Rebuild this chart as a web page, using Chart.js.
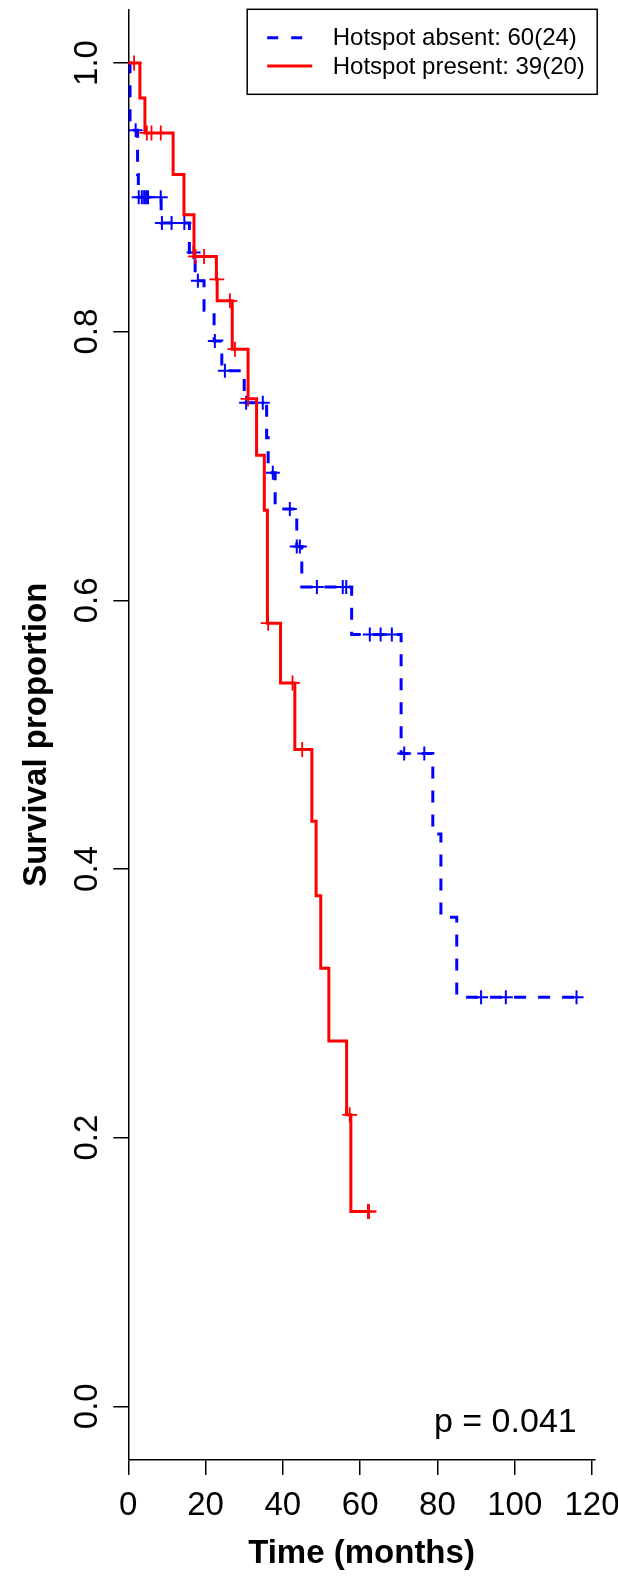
<!DOCTYPE html>
<html>
<head>
<meta charset="utf-8">
<script src="https://cdn.jsdelivr.net/npm/chart.js@4.4.0/dist/chart.umd.min.js"></script>
<style>
  html, body { margin: 0; padding: 0; background: #fff; }
</style>
</head>
<body>
<canvas id="km" width="618" height="1580"></canvas>
<script>
// axis ticks
const timeTicks = [0, 20, 40, 60, 80, 100, 120];
const survivalTicks = [0, 0.2, 0.4, 0.6, 0.8, 1.0];

// Hotspot absent (blue, dashed): step times and the survival reached at each
const absentStepTimes = [0, 0.45, 2.4, 2.6, 8.5, 15.8, 17.3, 19.6, 22.2, 24.2, 30.0, 35.8, 36.2, 38.0, 43.6, 44.9, 57.8, 70.6, 78.8, 80.9, 85.0, 116.0];
const absentStepSurv  = [1.0, 0.950, 0.917, 0.900, 0.881, 0.859, 0.838, 0.816, 0.793, 0.771, 0.747, 0.721, 0.695, 0.668, 0.640, 0.610, 0.5745, 0.486, 0.426, 0.364, 0.3045, 0.3045];
const absentCensorTimes = [1.9, 2.7, 3.5, 4.1, 4.6, 5.1, 8.4, 8.7, 11.2, 14.5, 16.9, 18.0, 22.4, 25.0, 30.5, 34.8, 37.4, 41.8, 43.6, 44.4, 48.8, 55.5, 56.4, 62.5, 65.3, 68.2, 71.4, 76.6, 91.3, 97.7, 116.0];
const absentCensorSurv  = [0.95, 0.9, 0.9, 0.9, 0.9, 0.9, 0.9, 0.881, 0.881, 0.881, 0.859, 0.838, 0.793, 0.771, 0.747, 0.747, 0.695, 0.668, 0.640, 0.640, 0.610, 0.610, 0.610, 0.5745, 0.5745, 0.5745, 0.486, 0.486, 0.3045, 0.3045, 0.3045];

// Hotspot present (red, solid)
const presentStepTimes = [0, 3.0, 4.3, 11.6, 14.4, 17.0, 22.8, 23.0, 26.9, 31.0, 33.2, 35.2, 36.0, 39.4, 43.1, 47.5, 48.6, 49.8, 51.9, 56.5, 57.6, 62.3];
const presentStepSurv  = [1.0, 0.974, 0.948, 0.917, 0.887, 0.856, 0.839, 0.823, 0.787, 0.750, 0.708, 0.667, 0.583, 0.5385, 0.489, 0.4355, 0.380, 0.326, 0.272, 0.217, 0.145, 0.145];
const presentCensorTimes = [1.5, 4.8, 6.0, 8.4, 17.4, 19.6, 22.9, 26.3, 27.6, 31.0, 36.2, 42.5, 45.0, 57.3, 62.0, 62.3];
const presentCensorSurv  = [1.0, 0.948, 0.948, 0.948, 0.856, 0.856, 0.839, 0.823, 0.787, 0.750, 0.583, 0.5385, 0.489, 0.217, 0.145, 0.145];

const groupLabels = ['Hotspot absent: 60(24)', 'Hotspot present: 39(20)'];
const pValueText = 'p = 0.041';

const FONT = '"Liberation Sans", Arial, Helvetica, sans-serif';
const BLUE = '#0000FF';
const RED = '#FF0000';

function toPoints(xs, ys) {
    return xs.map((x, i) => ({ x: x, y: ys[i] }));
}

// legend box, tick labels on y and the p value, drawn on top
const overlay = {
    id: 'overlay',
    afterDraw(chart) {
        const ctx = chart.ctx;
        const area = chart.chartArea;
        const ys = chart.scales.y;
        ctx.save();

        ctx.fillStyle = '#000';
        ctx.font = '33px ' + FONT;
        ctx.textAlign = 'center';
        ctx.textBaseline = 'middle';
        ys.ticks.forEach(t => {
            ctx.save();
            ctx.translate(area.left - 40, ys.getPixelForValue(t.value));
            ctx.rotate(-Math.PI / 2);
            ctx.fillText(t.value.toFixed(1), 0, 0);
            ctx.restore();
        });

        ctx.font = '34px ' + FONT;
        ctx.textAlign = 'right';
        ctx.textBaseline = 'alphabetic';
        ctx.fillText(pValueText, area.right - 18, ys.getPixelForValue(0) + 26);

        const boxRight = area.right + 2.5;
        const boxLeft = boxRight - 350;
        const boxTop = area.top;
        ctx.strokeStyle = '#000';
        ctx.lineWidth = 1.5;
        ctx.strokeRect(boxLeft, boxTop, boxRight - boxLeft, 85);

        const legendStyles = [
            { color: BLUE, dash: [11, 13] },
            { color: RED, dash: [] }
        ];
        ctx.font = '24px ' + FONT;
        ctx.textAlign = 'left';
        ctx.textBaseline = 'middle';
        groupLabels.forEach((lab, i) => {
            const ly = boxTop + 28.4 + i * 28.3;
            ctx.strokeStyle = legendStyles[i].color;
            ctx.lineWidth = 3;
            ctx.setLineDash(legendStyles[i].dash);
            ctx.beginPath();
            ctx.moveTo(boxLeft + 20, ly);
            ctx.lineTo(boxLeft + 65, ly);
            ctx.stroke();
            ctx.setLineDash([]);
            ctx.fillStyle = '#000';
            ctx.fillText(lab, boxLeft + 85.5, ly + 1);
        });
        ctx.restore();
    }
};

const ctx = document.getElementById('km').getContext('2d');

new Chart(ctx, {
    type: 'line',
    data: {
        datasets: [
            {
                label: groupLabels[1],
                data: toPoints(presentStepTimes, presentStepSurv),
                borderColor: RED,
                borderWidth: 3,
                stepped: 'before',
                pointRadius: 0,
                fill: false,
                order: 0
            },
            {
                label: 'present censored',
                data: toPoints(presentCensorTimes, presentCensorSurv),
                showLine: false,
                pointStyle: 'cross',
                pointRadius: 7.5,
                pointBorderWidth: 1.8,
                borderColor: RED,
                pointBorderColor: RED,
                order: 1
            },
            {
                label: 'absent censored',
                data: toPoints(absentCensorTimes, absentCensorSurv),
                showLine: false,
                pointStyle: 'cross',
                pointRadius: 7,
                pointBorderWidth: 2,
                borderColor: BLUE,
                pointBorderColor: BLUE,
                order: 2
            },
            {
                label: groupLabels[0],
                data: toPoints(absentStepTimes, absentStepSurv),
                borderColor: BLUE,
                borderWidth: 3,
                borderDash: [12, 12],
                stepped: 'before',
                pointRadius: 0,
                fill: false,
                order: 3
            }
        ]
    },
    options: {
        responsive: false,
        devicePixelRatio: 1,
        animation: false,
        layout: {
            padding: { top: 9, right: 23.3, left: 0, bottom: 0 }
        },
        plugins: {
            legend: { display: false },
            tooltip: { enabled: false }
        },
        scales: {
            x: {
                type: 'linear',
                min: 0,
                max: 120.7,
                afterBuildTicks: s => { s.ticks = timeTicks.map(v => ({ value: v })); },
                afterFit: s => { s.height = 120; s.paddingLeft = 0; s.paddingRight = 0; },
                grid: { drawOnChartArea: false, drawTicks: true, tickLength: 15, color: '#000', lineWidth: 1.5 },
                border: { display: true, color: '#000', width: 1.5 },
                ticks: {
                    font: { family: FONT, size: 33 },
                    color: '#000',
                    padding: 11,
                    maxRotation: 0,
                    autoSkip: false,
                    callback: v => String(v)
                },
                title: {
                    display: true,
                    text: 'Time (months)',
                    font: { family: FONT, size: 33, weight: 'bold' },
                    color: '#000',
                    padding: { top: 0, bottom: 6 }
                }
            },
            y: {
                type: 'linear',
                min: -0.04,
                max: 1.04,
                afterBuildTicks: s => { s.ticks = survivalTicks.map(v => ({ value: v })); },
                afterFit: s => { s.width = 128.3; s.paddingTop = 0; s.paddingBottom = 0; },
                grid: { drawOnChartArea: false, drawTicks: true, tickLength: 15, color: '#000', lineWidth: 1.5 },
                border: { display: true, color: '#000', width: 1.5 },
                ticks: { display: false },
                title: {
                    display: true,
                    text: 'Survival proportion',
                    font: { family: FONT, size: 33, weight: 'bold' },
                    color: '#000',
                    padding: { top: 17, bottom: 0 }
                }
            }
        }
    },
    plugins: [overlay]
});
</script>
</body>
</html>
